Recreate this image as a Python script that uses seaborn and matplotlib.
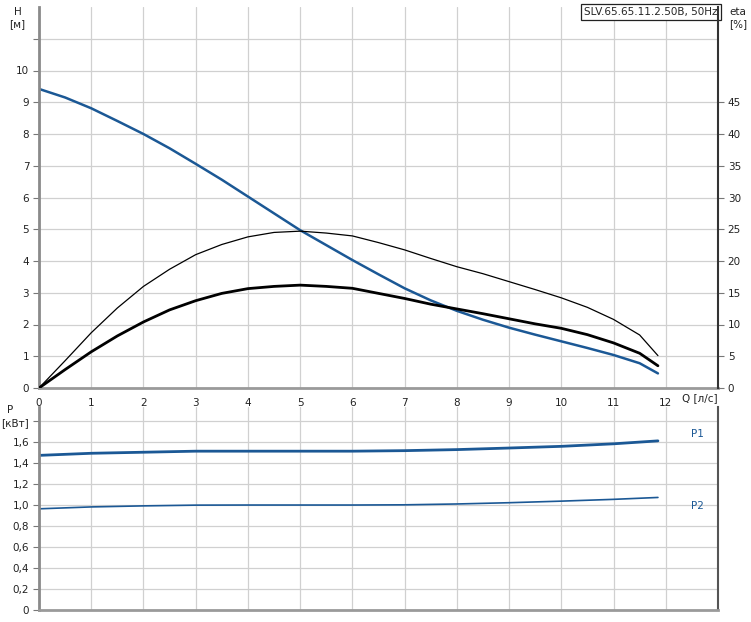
import numpy as np
import pandas as pd
import matplotlib
matplotlib.use("Agg")
import matplotlib.pyplot as plt
import seaborn as sns

# Values
q = [0, 0.5, 1, 1.5, 2, 2.5, 3, 3.5, 4, 4.5, 5, 5.5, 6, 6.5, 7, 7.5, 8, 8.5,
     9, 9.5, 10, 10.5, 11, 11.5, 11.85]
head = [9.42, 9.15, 8.81, 8.41, 8.0, 7.55, 7.06, 6.56, 6.03, 5.5, 4.97, 4.5, 4.03, 3.58,
        3.14, 2.76, 2.43, 2.15, 1.9, 1.68, 1.47, 1.26, 1.04, 0.78, 0.46]
eta_pump = [0, 4.3, 8.7, 12.6, 16.0, 18.7, 21.0, 22.6, 23.8, 24.5, 24.7, 24.4, 23.95, 22.9,
            21.75, 20.4, 19.1, 18.0, 16.75, 15.5, 14.2, 12.7, 10.8, 8.35, 5.1]
eta_total = [0, 2.9, 5.7, 8.2, 10.4, 12.3, 13.75, 14.9, 15.65, 16.0, 16.2, 16.0, 15.7, 14.9,
             14.1, 13.2, 12.45, 11.7, 10.9, 10.1, 9.4, 8.4, 7.1, 5.47, 3.5]

q_p = [0, 1, 2, 3, 4, 5, 6, 7, 8, 9, 10, 11, 11.85]
p1 = [1.47, 1.49, 1.50, 1.51, 1.51, 1.51, 1.51, 1.515, 1.525, 1.54, 1.556, 1.58, 1.608]
p2 = [0.962, 0.98, 0.99, 0.997, 0.998, 0.998, 0.998, 1.0, 1.008, 1.02, 1.035, 1.052, 1.07]

title = "SLV.65.65.11.2.50B, 50Hz"

df = pd.DataFrame({"Q": q, "H": head, "eta": eta_pump, "eta2": eta_total})
dfp = pd.DataFrame({"Q": q_p, "P1": p1, "P2": p2})

sns.set_style("white")
plt.rcParams["font.family"] = ["DejaVu Sans"]
plt.rcParams["font.size"] = 7.5

blue = "#1b5895"
grid = "#d0d0d0"
fig = plt.figure(figsize=(7.51, 6.22), dpi=100)

W, H = 751, 622
def box(l, t, r, b):
    return [l / W, 1 - b / H, (r - l) / W, (b - t) / H]

# ---- top panel: H and eta ----
ax = fig.add_axes(box(39, 7, 718, 388))
ax2 = ax.twinx()
sns.lineplot(data=df, x="Q", y="H", ax=ax, color=blue, lw=1.8)
sns.lineplot(data=df, x="Q", y="eta", ax=ax2, color="black", lw=0.9)
sns.lineplot(data=df, x="Q", y="eta2", ax=ax2, color="black", lw=2.0)
ax.set_xlim(0, 13)
ax.set_ylim(0, 12)
ax2.set_ylim(0, 60)
ax.set_xticks(range(0, 13))
ax.set_yticks(range(0, 12))
ax.set_yticklabels([str(i) for i in range(0, 11)] + [""])
ax2.set_yticks(range(0, 50, 5))
ax.grid(True, color=grid, lw=0.9)
ax.set_xlabel("")
ax.set_ylabel("")
ax2.set_ylabel("")
for a in (ax, ax2):
    for s in a.spines.values():
        s.set_visible(False)
ax.spines["left"].set_visible(True)
ax.spines["left"].set_color("#8a8a8a")
ax.spines["left"].set_linewidth(2)
ax.spines["bottom"].set_visible(True)
ax.spines["bottom"].set_color("#9a9a9a")
ax.spines["bottom"].set_linewidth(2)
ax2.spines["right"].set_visible(True)
ax2.spines["right"].set_color("#333333")
ax2.spines["right"].set_linewidth(1.5)
ax.tick_params(axis="y", left=True, length=4, color="#777777", pad=3, labelcolor="#222222")
ax.tick_params(axis="x", bottom=False, pad=4, labelcolor="#222222")
ax2.tick_params(axis="y", right=True, length=4, color="#777777", pad=3, labelcolor="#222222")

ax.text(1.0, 1.0, title, transform=ax.transAxes, ha="right", va="top", fontsize=7.5,
        bbox=dict(boxstyle="square,pad=0.3", fc="white", ec="#222222", lw=0.9))
fig.text(18 / W, 1 - 12 / H, "H", ha="center", va="center", fontsize=7.5, color="#222222")
fig.text(17 / W, 1 - 24 / H, "[м]", ha="center", va="center", fontsize=7.5, color="#222222")
fig.text(738 / W, 1 - 12 / H, "eta", ha="center", va="center", fontsize=7.5, color="#222222")
fig.text(738 / W, 1 - 24 / H, "[%]", ha="center", va="center", fontsize=7.5, color="#222222")
fig.text(700 / W, 1 - 398 / H, "Q [л/с]", ha="center", va="center", fontsize=7.5, color="#222222")

# ---- bottom panel: power ----
bx = fig.add_axes(box(39, 407, 718, 610))
sns.lineplot(data=dfp, x="Q", y="P1", ax=bx, color=blue, lw=2.0)
sns.lineplot(data=dfp, x="Q", y="P2", ax=bx, color=blue, lw=1.2)
bx.set_xlim(0, 13)
bx.set_ylim(0, 1.93)
bx.set_xticks(range(0, 13))
bx.set_xticklabels([])
ticks = [0, 0.2, 0.4, 0.6, 0.8, 1.0, 1.2, 1.4, 1.6, 1.8]
bx.set_yticks(ticks)
bx.set_yticklabels([("%.1f" % t).replace(".", ",") if t not in (0, 1.8) else ("0" if t == 0 else "")
                    for t in ticks])
bx.grid(True, color=grid, lw=0.9)
bx.set_xlabel("")
bx.set_ylabel("")
for s in bx.spines.values():
    s.set_visible(False)
bx.spines["left"].set_visible(True)
bx.spines["left"].set_color("#8a8a8a")
bx.spines["left"].set_linewidth(2)
bx.spines["bottom"].set_visible(True)
bx.spines["bottom"].set_color("#9a9a9a")
bx.spines["bottom"].set_linewidth(2)
bx.spines["right"].set_visible(True)
bx.spines["right"].set_color("#555555")
bx.spines["right"].set_linewidth(1.5)
bx.tick_params(axis="y", left=True, length=4, color="#777777", pad=3, labelcolor="#222222")
bx.tick_params(axis="x", bottom=False)
bx.text(12.6, 1.675, "P1", ha="center", va="center", color=blue, fontsize=7.5)
bx.text(12.6, 0.99, "P2", ha="center", va="center", color=blue, fontsize=7.5)
fig.text(10 / W, 1 - 410 / H, "P", ha="center", va="center", fontsize=7.5, color="#222222")
fig.text(15 / W, 1 - 423 / H, "[кВт]", ha="center", va="center", fontsize=7.5, color="#222222")

fig.savefig("out.png", dpi=100)
